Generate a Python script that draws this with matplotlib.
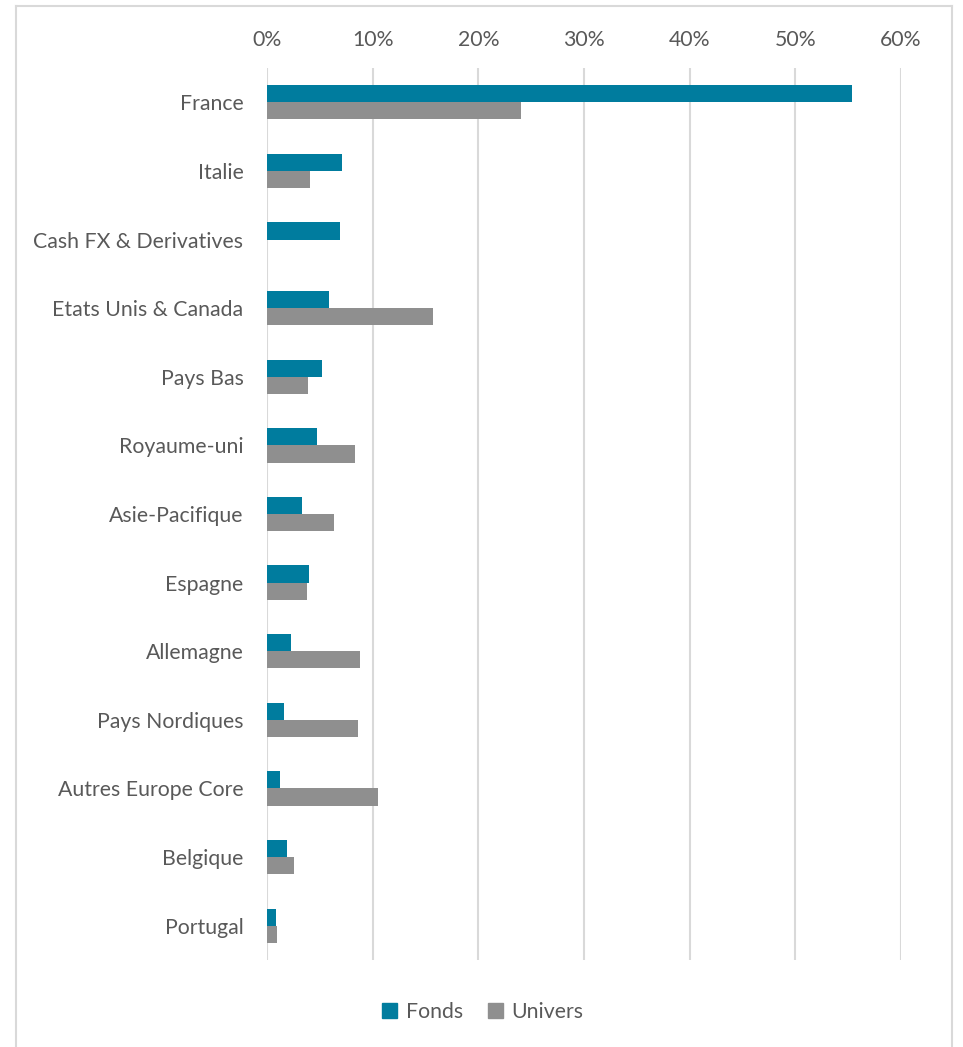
import matplotlib
matplotlib.use("Agg")
import matplotlib.pyplot as plt
from matplotlib.ticker import PercentFormatter
from matplotlib.lines import Line2D
import numpy as np

categories = ["France", "Italie", "Cash FX & Derivatives", "Etats Unis & Canada",
              "Pays Bas", "Royaume-uni", "Asie-Pacifique", "Espagne", "Allemagne",
              "Pays Nordiques", "Autres Europe Core", "Belgique", "Portugal"]
fonds = [55.4, 7.1, 6.9, 5.9, 5.2, 4.7, 3.3, 4.0, 2.3, 1.6, 1.2, 1.9, 0.85]
univers = [24.0, 4.1, 0.0, 15.7, 3.9, 8.3, 6.3, 3.8, 8.8, 8.6, 10.5, 2.6, 0.9]
xticks = [0, 10, 20, 30, 40, 50, 60]

c_fonds = "#007C9E"
c_univ = "#8F8F8F"
txt = "#595959"

plt.rcParams['font.family'] = ['Lato', 'DejaVu Sans']

W, H = 963, 1047
fig = plt.figure(figsize=(W/100, H/100), dpi=100)
ax = fig.add_axes([267/W, 1-960/H, (901-267)/W, (960-68)/H])

y = np.arange(len(categories))
bh = 0.25
ax.barh(y - bh/2, fonds, height=bh, color=c_fonds, label="Fonds", zorder=3)
ax.barh(y + bh/2, univers, height=bh, color=c_univ, label="Univers", zorder=3)

ax.set_ylim(len(categories) - 0.5, -0.5)
ax.set_xlim(0, 60)
ax.set_xticks(xticks)
ax.xaxis.set_major_formatter(PercentFormatter(decimals=0))
ax.xaxis.tick_top()
ax.set_yticks(y)
ax.set_yticklabels(categories)
ax.tick_params(axis='both', length=0, colors=txt, labelsize=15.3)
ax.tick_params(axis='y', pad=17)
ax.tick_params(axis='x', pad=13)
for s in ax.spines.values():
    s.set_visible(False)
ax.grid(axis='x', color="#D9D9D9", linewidth=1.5, zorder=0)

handles = [plt.Rectangle((0, 0), 1, 1, color=c_fonds), plt.Rectangle((0, 0), 1, 1, color=c_univ)]
fig.legend(handles, ["Fonds", "Univers"], loc='center', bbox_to_anchor=(483/W, 1-1012/H),
           ncol=2, frameon=False, fontsize=15.3, labelcolor=txt, handlelength=0.7,
           handleheight=0.7, handletextpad=0.4, columnspacing=1.2)

# outer chart border (left, top, right)
bc = "#D9D9D9"
fig.add_artist(Line2D([16/W, 16/W], [0, 1-6/H], transform=fig.transFigure, color=bc, lw=1.5))
fig.add_artist(Line2D([16/W, 952/W], [1-6/H, 1-6/H], transform=fig.transFigure, color=bc, lw=1.5))
fig.add_artist(Line2D([952/W, 952/W], [0, 1-6/H], transform=fig.transFigure, color=bc, lw=1.5))

fig.savefig("out.png", dpi=100, facecolor="white")
